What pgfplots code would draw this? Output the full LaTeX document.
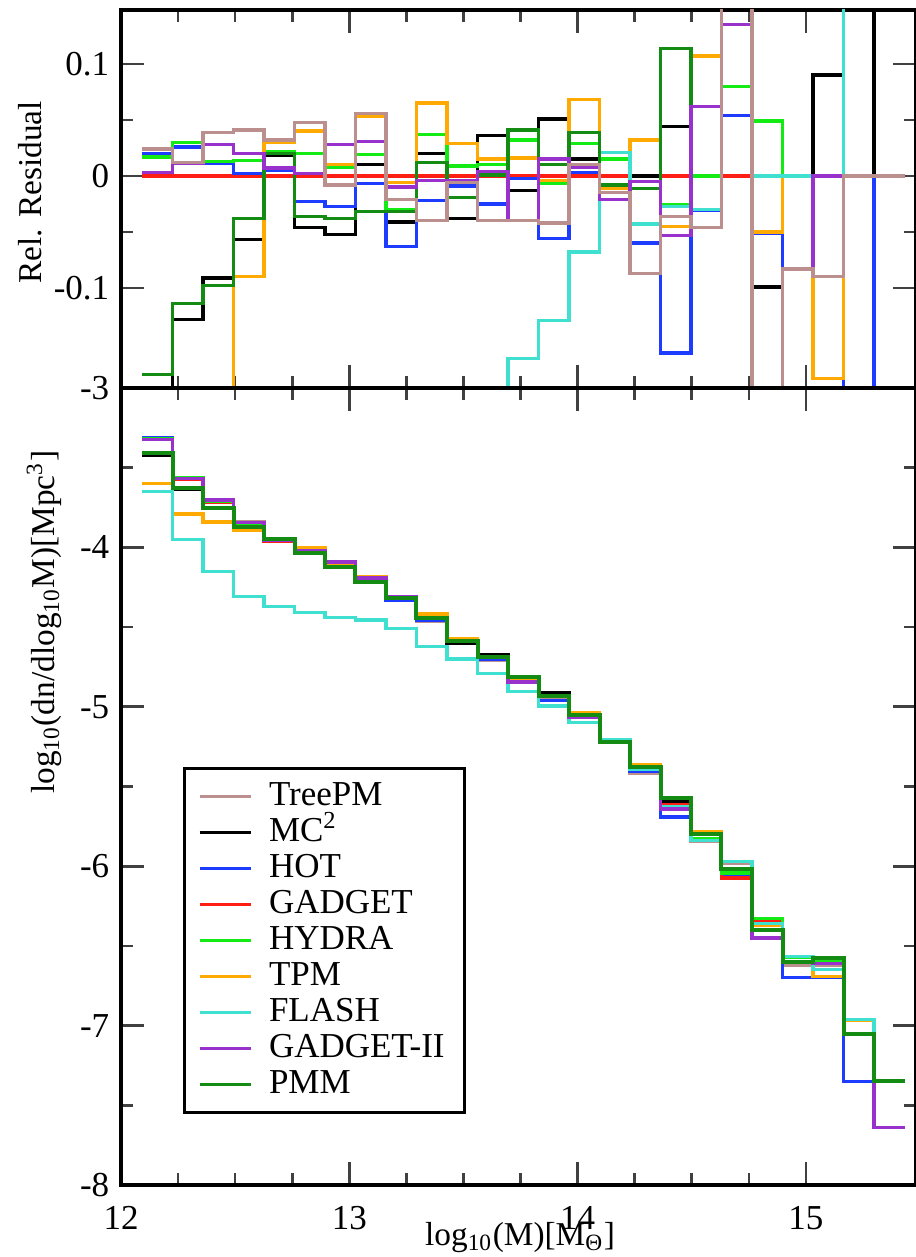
\documentclass[border=0pt]{standalone}
\usepackage{pgfplots}
\pgfplotsset{compat=1.18}
\usepackage{pgfplotstable}
\usepackage{fontspec}
\setmainfont{Liberation Serif}

\definecolor{cTree}{RGB}{188,143,143}
\definecolor{cMC}{RGB}{0,0,0}
\definecolor{cHOT}{RGB}{30,60,255}
\definecolor{cGAD}{RGB}{255,30,20}
\definecolor{cHYD}{RGB}{20,235,20}
\definecolor{cTPM}{RGB}{255,170,0}
\definecolor{cFLA}{RGB}{64,224,208}
\definecolor{cGII}{RGB}{153,50,204}
\definecolor{cPMM}{RGB}{20,140,20}

% relative residuals, bins start at x (last row closes the last bin)
\pgfplotstableread{
x      tree   mc     hot    hyd    tpm    fla    gii    pmm
12.092  0.024 -0.200  0.020  0.017 -0.470 -0.500  0.003 -0.177
12.226  0.012 -0.128  0.026  0.030 -0.390 -0.500  0.011 -0.114
12.359  0.039 -0.091  0.011  0.013 -0.250 -0.500  0.028 -0.098
12.493  0.041 -0.057  0.002  0.014 -0.090 -0.500  0.020 -0.038
12.626  0.032  0.018  0.005  0.022  0.030 -0.500  0.007  0.020
12.760  0.048 -0.046 -0.023  0.020  0.040 -0.500  0.002 -0.036
12.894 -0.008 -0.052 -0.027  0.008  0.010 -0.500  0.028 -0.038
13.027  0.056  0.010 -0.007  0.019  0.053 -0.500  0.031 -0.032
13.161 -0.021 -0.041 -0.063 -0.030 -0.006 -0.500 -0.010 -0.032
13.294 -0.040  0.020 -0.022  0.037  0.065 -0.500 -0.004  0.012
13.428 -0.006 -0.038 -0.009  0.009  0.029 -0.500 -0.004 -0.019
13.562 -0.040  0.036 -0.025  0.010  0.015 -0.500  0.004  0.001
13.695 -0.040 -0.013 -0.002  0.032  0.016 -0.163 -0.040  0.041
13.829 -0.042  0.051 -0.056 -0.007 -0.004 -0.129  0.015  0.010
13.962  0.010  0.015  0.003  0.029  0.068 -0.068  0.008  0.039
14.096 -0.015 -0.011 -0.021  0.015 -0.011  0.021 -0.021 -0.008
14.230 -0.087  0.000 -0.060 -0.005  0.032 -0.043 -0.005 -0.011
14.363 -0.036  0.044 -0.158 -0.026 -0.045 -0.027 -0.053  0.114
14.497 -0.046  0.062 -0.031  0.000  0.107 -0.030  0.062  0.062
14.630  0.300  0.135  0.054  0.080  0.400  0.400  0.135  0.135
14.764 -0.400 -0.099 -0.051  0.049 -0.050  0.000 -0.400 -0.400
14.898 -0.083  0.000 -0.400  0.000  0.000  0.000 -0.083 -0.083
15.031 -0.090  0.090 -0.400  0.000 -0.181  0.000  0.000  0.000
15.165  0.000  0.400  0.000  0.000  0.400  0.400  0.000  0.000
15.298  0.000  0.000 -0.400  0.000  0.400  0.400  0.000  0.000
15.432  0.000  0.000 -0.400  0.000  0.400  0.400  0.000  0.000
}\res

% log10 mass function
\pgfplotstableread{
x      tree   mc     hot    gad    hyd    tpm    fla    gii    pmm
12.092 -3.313 -3.420 -3.314 -3.323 -3.316 -3.600 -3.650 -3.322 -3.408
12.226 -3.569 -3.634 -3.563 -3.574 -3.561 -3.790 -3.950 -3.569 -3.627
12.359 -3.698 -3.756 -3.710 -3.715 -3.709 -3.840 -4.152 -3.703 -3.753
12.493 -3.836 -3.879 -3.852 -3.853 -3.847 -3.894 -4.310 -3.844 -3.870
12.626 -3.945 -3.951 -3.957 -3.959 -3.950 -3.946 -4.370 -3.956 -3.950
12.760 -3.999 -4.040 -4.029 -4.019 -4.010 -4.002 -4.410 -4.018 -4.035
12.894 -4.107 -4.126 -4.115 -4.103 -4.100 -4.099 -4.440 -4.091 -4.120
13.027 -4.182 -4.202 -4.209 -4.206 -4.198 -4.184 -4.455 -4.193 -4.220
13.161 -4.315 -4.324 -4.334 -4.306 -4.319 -4.309 -4.510 -4.310 -4.320
13.294 -4.463 -4.436 -4.455 -4.445 -4.429 -4.418 -4.620 -4.447 -4.440
13.428 -4.585 -4.599 -4.586 -4.582 -4.578 -4.570 -4.700 -4.584 -4.590
13.562 -4.708 -4.675 -4.701 -4.690 -4.686 -4.684 -4.790 -4.688 -4.690
13.695 -4.845 -4.833 -4.828 -4.827 -4.813 -4.820 -4.904 -4.845 -4.810
13.829 -4.953 -4.912 -4.959 -4.934 -4.937 -4.936 -4.994 -4.928 -4.930
13.962 -5.063 -5.061 -5.066 -5.067 -5.055 -5.038 -5.098 -5.063 -5.050
14.096 -5.224 -5.222 -5.226 -5.217 -5.211 -5.222 -5.208 -5.226 -5.220
14.230 -5.415 -5.375 -5.402 -5.375 -5.377 -5.361 -5.394 -5.377 -5.380
14.363 -5.633 -5.598 -5.692 -5.617 -5.628 -5.637 -5.629 -5.641 -5.570
14.497 -5.847 -5.826 -5.840 -5.826 -5.826 -5.782 -5.839 -5.800 -5.800
14.630 -5.980 -6.075 -6.052 -6.075 -6.042 -5.970 -5.970 -6.020 -6.020
14.764 -6.450 -6.400 -6.370 -6.350 -6.330 -6.370 -6.360 -6.450 -6.400
14.898 -6.620 -6.600 -6.700 -6.570 -6.570 -6.600 -6.565 -6.600 -6.600
15.031 -6.620 -6.580 -6.700 -6.610 -6.600 -6.690 -6.650 -6.610 -6.576
15.165 -7.050 -7.050 -7.350 -7.050 -7.050 -6.970 -6.960 -7.050 -7.050
15.298 -7.350 -7.350 -7.350 -7.350 -7.350 -7.640 -7.350 -7.640 -7.350
15.432 -7.350 -7.350 -7.350 -7.350 -7.350 -7.640 -7.350 -7.640 -7.350
}\mf

\pgfplotsset{
  panel/.style={
    scale only axis, width=238.5pt,
    xmin=12, xmax=15.482,
    axis line style={line width=1pt},
    tick align=inside, tick pos=both,
    xtick={12,13,14,15}, minor x tick num=3,
    major tick length=7pt, minor tick length=3.5pt,
    every tick/.style={black!75, line width=0.8pt},
    tick label style={font=\fontsize{10.5}{12}\selectfont},
    label style={font=\fontsize{10.5}{12}\selectfont},
    /pgf/number format/assume math mode=true,
    const plot,
    every axis plot/.append style={line width=1pt},
  },
}

\begin{document}
\begin{tikzpicture}
\useasboundingbox (0,0) rectangle (274.8pt,377.1pt);

% residual panel
\begin{axis}[panel,
  at={(36.3pt,260.7pt)}, anchor=south west, height=113.4pt,
  ymin=-0.1893, ymax=0.1482,
  ytick={-0.1,0,0.1}, minor y tick num=1,
  xticklabels={},
  ylabel={Rel. Residual},
  every axis y label/.style={at={(axis description cs:-0.1145,0.518)}, rotate=90, anchor=center},
]
\addplot[cGAD] coordinates {(12.092,0) (14.764,0)};
\addplot[cMC]  table[x=x,y=mc]{\res};
\addplot[cHOT] table[x=x,y=hot]{\res};
\addplot[cHYD] table[x=x,y=hyd]{\res};
\addplot[cTPM] table[x=x,y=tpm]{\res};
\addplot[cFLA] table[x=x,y=fla]{\res};
\addplot[cPMM] table[x=x,y=pmm]{\res};
\addplot[cGII] table[x=x,y=gii]{\res};
\addplot[cTree] table[x=x,y=tree]{\res};
\end{axis}

% mass function panel
\begin{axis}[panel,
  at={(36.3pt,21.6pt)}, anchor=south west, height=239.1pt,
  ymin=-8, ymax=-3,
  ytick={-8,-7,-6,-5,-4,-3}, minor y tick num=1,
  xticklabel style={yshift=-3pt},
  xlabel={log\textsubscript{10}(M)[M\textsubscript{Θ}]},
  every axis x label/.style={at={(axis description cs:0.502,-0.0665)}, anchor=center},
  ylabel={log\textsubscript{10}(dn/dlog\textsubscript{10}M)[Mpc\textsuperscript{3}]},
  every axis y label/.style={at={(axis description cs:-0.0969,0.706)}, rotate=90, anchor=center},
  legend image code/.code={\draw[#1, line width=1pt] (0pt,0pt) -- (15.3pt,0pt);},
  legend cell align=left,
  legend style={at={(axis description cs:0.078,0.5245)}, anchor=north west,
    draw=black, line width=1pt, inner xsep=4pt, inner ysep=3pt,
    font=\fontsize{10.5}{12}\selectfont,
    nodes={inner ysep=0.5pt, text height=7.5pt, text depth=2.3pt},
    /tikz/column 2/.style={column sep=0pt},
    /tikz/every odd column/.append style={column sep=3pt}},
]
\addplot[cTree] table[x=x,y=tree]{\mf}; \addlegendentry{TreePM}
\addplot[cMC]   table[x=x,y=mc]{\mf};   \addlegendentry{MC\textsuperscript{2}}
\addplot[cHOT]  table[x=x,y=hot]{\mf};  \addlegendentry{HOT}
\addplot[cGAD]  table[x=x,y=gad]{\mf};  \addlegendentry{GADGET}
\addplot[cHYD]  table[x=x,y=hyd]{\mf};  \addlegendentry{HYDRA}
\addplot[cTPM]  table[x=x,y=tpm]{\mf};  \addlegendentry{TPM}
\addplot[cFLA]  table[x=x,y=fla]{\mf};  \addlegendentry{FLASH}
\addplot[cGII]  table[x=x,y=gii]{\mf};  \addlegendentry{GADGET-II}
\addplot[cPMM, line width=1.2pt] table[x=x,y=pmm]{\mf}; \addlegendentry{PMM}
\end{axis}
\end{tikzpicture}
\end{document}
